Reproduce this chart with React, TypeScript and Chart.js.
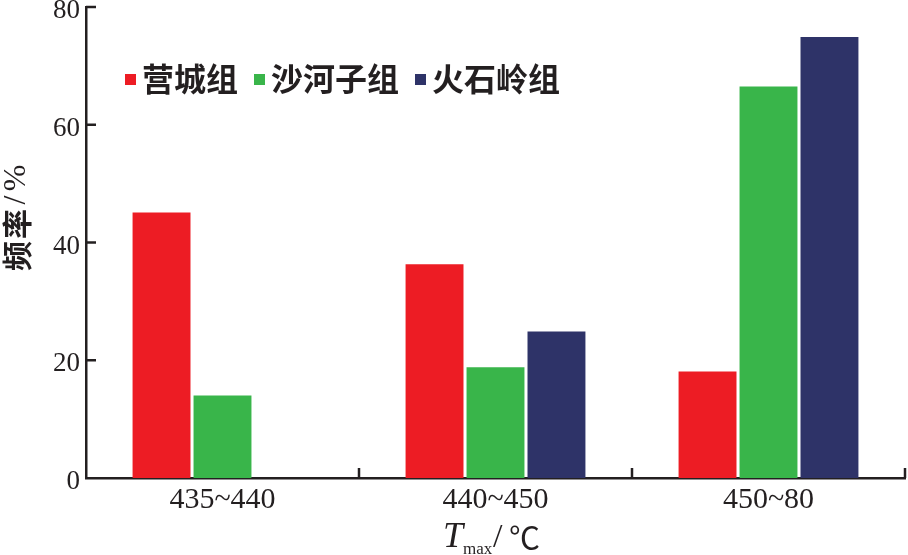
import React, { useEffect, useRef } from 'react';
import { Chart, registerables } from 'chart.js';

Chart.register(...registerables);

const categories = ['435~440', '440~450', '450~80'];
const seriesNames = ['营城组', '沙河子组', '火石岭组'];
const yingchengValues = [45.1, 36.3, 18.1];
const shahezValues = [14.0, 18.8, 66.5];
const huoshilingValues = [0, 24.9, 74.9];
const yTicks = [0, 20, 40, 60, 80];
const colors = ['#ED1C24', '#39B54A', '#2E3368'];
const AXIS = '#231F20';

const decor = {
  id: 'decor',
  afterDraw(chart: any) {
    const { ctx, chartArea, scales } = chart;
    const xs = scales.x;
    const ys = scales.y;
    ctx.save();
    ctx.strokeStyle = AXIS;
    ctx.lineWidth = 2.5;
    // y tick marks (inward)
    yTicks.forEach((v) => {
      if (v === 0) return;
      const py = ys.getPixelForValue(v);
      ctx.beginPath();
      ctx.moveTo(chartArea.left, py);
      ctx.lineTo(chartArea.left + 10, py);
      ctx.stroke();
    });
    // x tick marks at category boundaries (inward)
    const half = (xs.getPixelForValue(1) - xs.getPixelForValue(0)) / 2;
    for (let i = 0; i < categories.length; i++) {
      const px = xs.getPixelForValue(i) + half;
      ctx.beginPath();
      ctx.moveTo(px, chartArea.bottom);
      ctx.lineTo(px, chartArea.bottom - 10);
      ctx.stroke();
    }

    // legend inside plot
    ctx.font = 'bold 32px "Noto Sans CJK SC"';
    ctx.textBaseline = 'middle';
    ctx.textAlign = 'left';
    let lx = chartArea.left + 39;
    const ly = chartArea.top + 72;
    seriesNames.forEach((name, i) => {
      ctx.fillStyle = colors[i];
      ctx.fillRect(lx, ly - 5, 11, 11);
      lx += 11 + 6;
      ctx.fillStyle = '#231F20';
      ctx.fillText(name, lx, ly);
      lx += ctx.measureText(name).width + 16;
    });

    // y title
    ctx.save();
    ctx.translate(17, 216);
    ctx.rotate(-Math.PI / 2);
    ctx.textAlign = 'center';
    ctx.textBaseline = 'middle';
    ctx.fillStyle = '#231F20';
    ctx.font = 'bold 30px "Noto Sans CJK SC"';
    ctx.fillText('频', -40, 0);
    ctx.fillText('率', -8, 0);
    ctx.font = '32px "Liberation Serif"';
    ctx.fillText('/', 16, 0);
    ctx.fillText('%', 38, 0);
    ctx.restore();

    // x title
    ctx.fillStyle = '#231F20';
    ctx.textAlign = 'left';
    ctx.textBaseline = 'alphabetic';
    ctx.font = 'italic 36px "Liberation Serif"';
    ctx.fillText('T', 443, 547);
    ctx.font = '17px "Liberation Serif"';
    ctx.fillText('max', 463, 554);
    ctx.font = '34px "Liberation Serif"';
    ctx.fillText('/', 493, 547);
    ctx.font = '31px "Noto Sans CJK SC"';
    ctx.fillText('℃', 509, 549);
    ctx.restore();
  },
};

export default function App() {
  const ref = useRef<HTMLCanvasElement>(null);
  useEffect(() => {
    if (!ref.current) return;
    const chart = new Chart(ref.current, {
      type: 'bar',
      data: {
        labels: categories,
        datasets: [
          { label: seriesNames[0], data: yingchengValues, backgroundColor: colors[0] },
          { label: seriesNames[1], data: shahezValues, backgroundColor: colors[1] },
          { label: seriesNames[2], data: huoshilingValues, backgroundColor: colors[2] },
        ],
      },
      options: {
        animation: false,
        responsive: false,
        events: [],
        layout: { padding: { top: 7, right: 3, left: 0, bottom: 0 } },
        datasets: { bar: { categoryPercentage: 0.67, barPercentage: 0.95 } } as any,
        plugins: { legend: { display: false }, tooltip: { enabled: false } },
        scales: {
          x: {
            grid: { display: false, drawTicks: false },
            border: { display: true, color: AXIS, width: 2.5 },
            ticks: { color: AXIS, font: { family: '"Liberation Serif"', size: 30 }, padding: 4 },
            afterFit: (s: any) => { s.height = 77; s.paddingLeft = 0; s.paddingRight = 0; },
          },
          y: {
            min: 0,
            max: 80,
            grid: { display: false, drawTicks: false },
            border: { display: true, color: AXIS, width: 2.5 },
            ticks: {
              stepSize: 20,
              color: AXIS,
              font: { family: '"Liberation Serif"', size: 27 },
              padding: 6,
              labelOffset: 4,
            },
            afterFit: (s: any) => { s.width = 86; s.paddingTop = 0; s.paddingBottom = 0; },
          },
        },
      },
      plugins: [decor],
    });
    return () => chart.destroy();
  }, []);
  return (
    <div style={{ position: 'fixed', left: 0, top: 0, width: 908, height: 555, background: '#fff' }}>
      <canvas ref={ref} width={908} height={555} style={{ width: 908, height: 555 }} />
    </div>
  );
}
